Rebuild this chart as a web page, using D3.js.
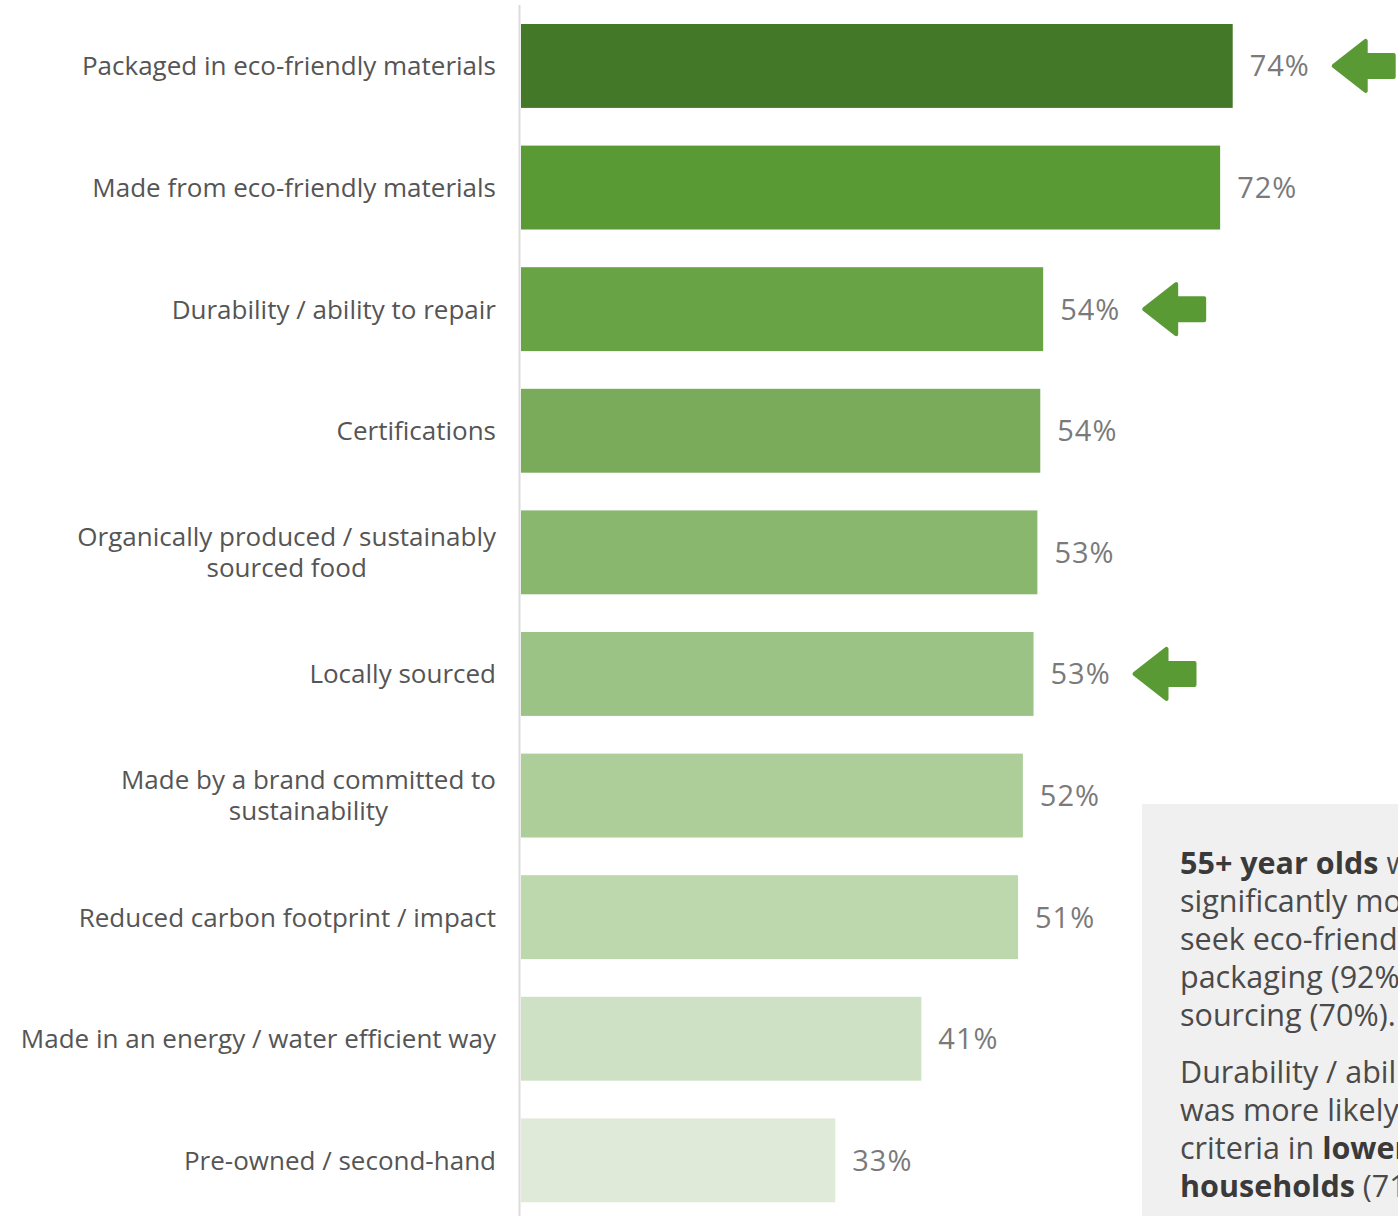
<!DOCTYPE html>
<html>
<head>
<meta charset="utf-8">
<script src="https://cdn.jsdelivr.net/npm/d3@7"></script>
<style>
  html, body { margin: 0; padding: 0; background: #fff; }
  svg { display: block; font-family: "Open Sans", "Noto Sans", sans-serif; }
</style>
</head>
<body>
<svg id="chart" width="1398" height="1216"></svg>
<script>
// Purchase criteria – share of respondents (%)
const categories = [
  ["Packaged in eco-friendly materials"],
  ["Made from eco-friendly materials"],
  ["Durability / ability to repair"],
  ["Certifications"],
  ["Organically produced / sustainably", "sourced food"],
  ["Locally sourced"],
  ["Made by a brand committed to", "sustainability"],
  ["Reduced carbon footprint / impact"],
  ["Made in an energy / water efficient way"],
  ["Pre-owned / second-hand"]
];
const values = [73.6, 72.3, 54.0, 53.7, 53.4, 53.0, 51.9, 51.4, 41.4, 32.5];
const barColors = ["#437828", "#5a9a35", "#68a445", "#79ab5a", "#8ab76e", "#9bc385", "#adcd99", "#bed8ae", "#cfe1c4", "#dfead8"];
const highlighted = [0, 2, 5];   // criteria flagged with an arrow

const noteLines = [
  [["55+ year olds", true], [" were", false]],
  [["significantly more likely to", false]],
  [["seek eco-friendly", false]],
  [["packaging (92%) and local", false]],
  [["sourcing (70%).", false]],
  null,
  [["Durability / ability to repair", false]],
  [["was more likely to be a", false]],
  [["criteria in ", false], ["lower income", true]],
  [["households", true], [" (71%).", false]]
];

const svg = d3.select("#chart");
const W = 1398, H = 1216;

const x = d3.scaleLinear().domain([0, 100]).range([521, 1488]);
const y = d3.scaleBand()
  .domain(d3.range(categories.length))
  .range([5.15, 5.15 + 1216])
  .paddingInner(0.31)
  .paddingOuter(0.155);

// vertical baseline
svg.append("line")
  .attr("x1", 519.5).attr("x2", 519.5)
  .attr("y1", 5).attr("y2", H)
  .attr("stroke", "#dcdcdc").attr("stroke-width", 2);

// bars
svg.append("g").selectAll("rect")
  .data(values)
  .join("rect")
  .attr("x", x(0))
  .attr("y", (d, i) => y(i))
  .attr("width", d => x(d) - x(0))
  .attr("height", y.bandwidth())
  .attr("fill", (d, i) => barColors[i]);

// value labels
svg.append("g").selectAll("text")
  .data(values)
  .join("text")
  .attr("x", d => x(d) + 17)
  .attr("y", (d, i) => y(i) + y.bandwidth() / 2)
  .attr("dy", "0.36em")
  .attr("font-size", 29)
  .attr("letter-spacing", 1)
  .attr("fill", "#7a7a7a")
  .text(d => Math.round(d) + "%");

// category labels: block right-aligned, lines centred within the block
const labelRight = 496;
const lineH = 31;
const catG = svg.append("g");
categories.forEach((lines, i) => {
  const cy = y(i) + y.bandwidth() / 2;
  const t = catG.append("text")
    .attr("font-size", 26)
    .attr("fill", "#555")
    .attr("text-anchor", "middle");
  const spans = lines.map((ln, k) => t.append("tspan")
    .attr("y", cy + (k - (lines.length - 1) / 2) * lineH)
    .attr("dy", "0.36em")
    .text(ln));
  const maxW = d3.max(spans, s => s.node().getComputedTextLength());
  spans.forEach(s => s.attr("x", labelRight - maxW / 2));
});

// arrows pointing at highlighted values
const arrowPath = (tipX, cy) => {
  const hw = 25, headL = 32, sh = 11, len = 60;
  return d3.line().curve(d3.curveLinearClosed)([
    [tipX, cy],
    [tipX + headL, cy - hw],
    [tipX + headL, cy - sh],
    [tipX + len, cy - sh],
    [tipX + len, cy + sh],
    [tipX + headL, cy + sh],
    [tipX + headL, cy + hw]
  ]);
};
svg.append("g").selectAll("path")
  .data(highlighted)
  .join("path")
  .attr("d", i => arrowPath(x(values[i]) + 101, y(i) + y.bandwidth() / 2))
  .attr("fill", "#5a9a35")
  .attr("stroke", "#5a9a35")
  .attr("stroke-width", 4)
  .attr("stroke-linejoin", "round");

// side note panel
svg.append("rect")
  .attr("x", 1142).attr("y", 804)
  .attr("width", W - 1142).attr("height", H - 804)
  .attr("fill", "#f0f0f0");

const noteG = svg.append("g");
let ny = 874;
noteLines.forEach(line => {
  if (line === null) { ny += 19; return; }
  const t = noteG.append("text")
    .attr("x", 1180).attr("y", ny)
    .attr("font-size", 30.5)
    .attr("fill", "#4a4a4a");
  line.forEach(([txt, bold]) => {
    t.append("tspan")
      .attr("font-weight", bold ? 700 : 400)
      .attr("fill", bold ? "#3a3a3a" : "#4a4a4a")
      .text(txt);
  });
  ny += 38;
});
</script>
</body>
</html>
